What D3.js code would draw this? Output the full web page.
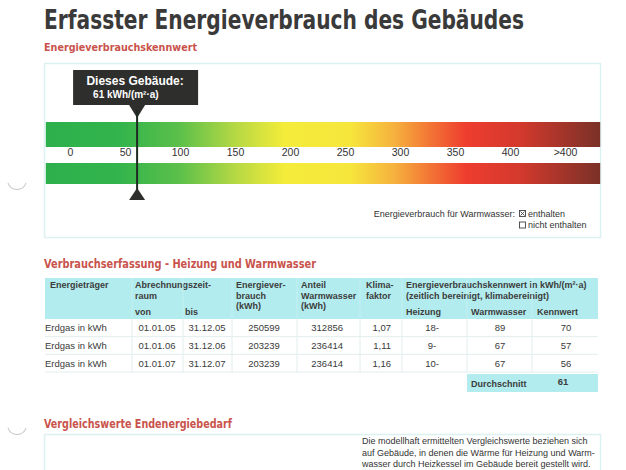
<!DOCTYPE html>
<html lang="de">
<head>
    <meta charset="UTF-8">
    <title>Erfasster Energieverbrauch des Gebäudes</title>
    <script src="https://d3js.org/d3.v7.min.js"></script>
    <style>
        body { margin: 0; background: #fff; }
        text { font-family: "Liberation Sans", Arial, sans-serif; }
        .head { font-family: "DejaVu Sans Condensed", "DejaVu Sans", sans-serif; }
    </style>
</head>
<body>
<div id="chart"></div>
<script>
    // scale values and tick labels
    const tickValues = [0, 50, 100, 150, 200, 250, 300, 350, 400, 450];
    const tickLabels = ["0", "50", "100", "150", "200", "250", "300", "350", "400", ">400"];
    const buildingValue = 61;
    const buildingLabel = "61 kWh/(m²·a)";

    // colour band along the scale (value, colour)
    const stopValues = [-22, 45, 100, 150, 195, 255, 295, 330, 360, 410, 482];
    const stopColors = ["#2db04c", "#33b44c", "#5cc04a", "#b5d844", "#f4ec3a", "#f6e63c", "#f6b13e", "#f27034", "#ee3d2f", "#d2392c", "#7a3127"];

    // table: Verbrauchserfassung
    const carriers = ["Erdgas in kWh", "Erdgas in kWh", "Erdgas in kWh"];
    const fromDates = ["01.01.05", "01.01.06", "01.01.07"];
    const toDates = ["31.12.05", "31.12.06", "31.12.07"];
    const consumption = [250599, 203239, 203239];
    const hotWaterShare = [312856, 236414, 236414];
    const climateFactor = ["1,07", "1,11", "1,16"];
    const heating = ["18-", "9-", "10-"];
    const hotWater = [89, 67, 67];
    const indexValues = [70, 57, 56];
    const average = 61;

    const red = "#c9534c";
    const cyan = "#b3ecef";
    const dark = "#333";

    const svg = d3.select("#chart").append("svg")
        .attr("width", 626)
        .attr("height", 470);

    // punch holes on the left margin
    [188, 433].forEach(cy => {
        svg.append("path")
            .attr("d", d3.arc()({ innerRadius: 9, outerRadius: 10, startAngle: Math.PI * 0.6, endAngle: Math.PI * 1.4 }))
            .attr("transform", `translate(17,${cy - 8})`)
            .attr("fill", "#c8c8c8");
    });

    // title
    svg.append("text").attr("class", "head")
        .attr("x", 44).attr("y", 29)
        .attr("font-size", 26).attr("font-weight", "bold")
        .attr("fill", "#3a3a3a")
        .attr("textLength", 480).attr("lengthAdjust", "spacingAndGlyphs")
        .text("Erfasster Energieverbrauch des Gebäudes");

    svg.append("text").attr("class", "head")
        .attr("x", 44).attr("y", 51)
        .attr("font-size", 11).attr("font-weight", "bold")
        .attr("fill", red)
        .attr("textLength", 153).attr("lengthAdjust", "spacingAndGlyphs")
        .text("Energieverbrauchskennwert");

    // panel
    svg.append("rect")
        .attr("x", 44.5).attr("y", 63.5).attr("width", 556).attr("height", 174)
        .attr("fill", "none").attr("stroke", "#dcf1f2").attr("stroke-width", 1.5);

    const x = d3.scaleLinear().domain([0, 400]).range([70, 510]);

    const grad = svg.append("defs").append("linearGradient")
        .attr("id", "band")
        .attr("gradientUnits", "userSpaceOnUse")
        .attr("x1", x(stopValues[0])).attr("x2", x(stopValues[stopValues.length - 1]))
        .attr("y1", 0).attr("y2", 0);
    grad.selectAll("stop").data(stopValues).join("stop")
        .attr("offset", d => (d - stopValues[0]) / (stopValues[stopValues.length - 1] - stopValues[0]))
        .attr("stop-color", (d, i) => stopColors[i]);

    const barX0 = x(stopValues[0]), barX1 = x(stopValues[stopValues.length - 1]);
    svg.append("rect")
        .attr("x", barX0).attr("y", 122).attr("width", barX1 - barX0).attr("height", 25)
        .attr("fill", "url(#band)");
    svg.append("rect")
        .attr("x", barX0).attr("y", 163).attr("width", barX1 - barX0).attr("height", 21)
        .attr("fill", "url(#band)");

    // tick labels via axis
    const axis = d3.axisBottom(x)
        .tickValues(tickValues)
        .tickFormat((d, i) => tickLabels[i])
        .tickSize(0)
        .tickPadding(0);
    const axisG = svg.append("g")
        .attr("transform", "translate(0,149)")
        .call(axis);
    axisG.select(".domain").remove();
    axisG.selectAll("text")
        .attr("font-family", "Liberation Sans, Arial, sans-serif")
        .attr("font-size", 10.5)
        .attr("fill", dark)
        .attr("dy", "0.71em");

    // building marker
    const mx = x(buildingValue);
    svg.append("rect")
        .attr("x", mx - 64).attr("y", 70).attr("width", 125).attr("height", 35)
        .attr("fill", "#2e2e2c");
    svg.append("text")
        .attr("x", mx - 2).attr("y", 84.5)
        .attr("text-anchor", "middle")
        .attr("font-size", 12).attr("font-weight", "bold").attr("fill", "#fff")
        .text("Dieses Gebäude:");
    svg.append("text")
        .attr("x", mx - 44).attr("y", 98)
        .attr("font-size", 10).attr("font-weight", "bold").attr("fill", "#fff")
        .text(buildingLabel);
    svg.append("path")
        .attr("d", `M${mx - 8},105 L${mx + 8},105 L${mx},118 Z`)
        .attr("fill", "#2e2e2c");
    svg.append("line")
        .attr("x1", mx).attr("x2", mx).attr("y1", 110).attr("y2", 192)
        .attr("stroke", "#1e2a22").attr("stroke-width", 2);
    svg.append("path")
        .attr("d", `M${mx - 8},200 L${mx + 8},200 L${mx},188 Z`)
        .attr("fill", "#2e2e2c");

    // hot water legend
    svg.append("text")
        .attr("x", 515).attr("y", 216.5).attr("text-anchor", "end")
        .attr("font-size", 9).attr("fill", dark)
        .text("Energieverbrauch für Warmwasser:");
    [{ y: 210, label: "enthalten", checked: true }, { y: 221.5, label: "nicht enthalten", checked: false }].forEach(o => {
        svg.append("rect")
            .attr("x", 519.5).attr("y", o.y + 0.5).attr("width", 6).attr("height", 6)
            .attr("fill", "#fff").attr("stroke", "#444").attr("stroke-width", 0.9);
        if (o.checked) {
            svg.append("path")
                .attr("d", `M520.5,${o.y + 1.5} l4,4 M524.5,${o.y + 1.5} l-4,4`)
                .attr("stroke", "#444").attr("stroke-width", 0.9);
        }
        svg.append("text")
            .attr("x", 528).attr("y", o.y + 6.8)
            .attr("font-size", 9).attr("fill", dark)
            .text(o.label);
    });

    // ---- table ----
    svg.append("text").attr("class", "head")
        .attr("x", 44).attr("y", 268)
        .attr("font-size", 12).attr("font-weight", "bold")
        .attr("fill", red)
        .attr("textLength", 272).attr("lengthAdjust", "spacingAndGlyphs")
        .text("Verbrauchserfassung - Heizung und Warmwasser");

    const colEdges = [45, 132, 183, 232, 297, 360, 402, 467, 532, 598];
    const headTop = 278, headBottom = 319;

    svg.append("rect")
        .attr("x", colEdges[0]).attr("y", headTop)
        .attr("width", colEdges[colEdges.length - 1] - colEdges[0]).attr("height", headBottom - headTop)
        .attr("fill", cyan);

    const hdr = [
        { x: 50, lines: ["Energieträger"] },
        { x: 135, lines: ["Abrechnungszeit-", "raum"] },
        { x: 236, lines: ["Energiever-", "brauch", "(kWh)"] },
        { x: 301, lines: ["Anteil", "Warmwasser", "(kWh)"] },
        { x: 366, lines: ["Klima-", "faktor"] },
        { x: 406, lines: ["Energieverbrauchskennwert in kWh/(m²·a)", "(zeitlich bereinigt, klimabereinigt)"] }
    ];
    hdr.forEach(h => {
        const t = svg.append("text")
            .attr("x", h.x).attr("y", 288)
            .attr("font-size", 9).attr("font-weight", "bold").attr("fill", "#3c3c3c");
        h.lines.forEach((l, i) => t.append("tspan").attr("x", h.x).attr("dy", i ? 10.5 : 0).text(l));
    });
    [{ x: 135, s: "von" }, { x: 185, s: "bis" }, { x: 406, s: "Heizung" }, { x: 471, s: "Warmwasser" }, { x: 537, s: "Kennwert" }]
        .forEach(h => svg.append("text")
            .attr("x", h.x).attr("y", 315)
            .attr("font-size", 9).attr("font-weight", "bold").attr("fill", "#3c3c3c")
            .text(h.s));

    const y = d3.scaleBand().domain(d3.range(carriers.length)).range([headBottom, 372]);

    // body grid
    const gridColor = "#e2eeee";
    y.domain().forEach(i => {
        svg.append("line")
            .attr("x1", colEdges[0]).attr("x2", colEdges[colEdges.length - 1])
            .attr("y1", y(i) + y.bandwidth()).attr("y2", y(i) + y.bandwidth())
            .attr("stroke", gridColor);
    });
    colEdges.slice(1, -1).forEach(cx => {
        svg.append("line")
            .attr("x1", cx).attr("x2", cx).attr("y1", headBottom).attr("y2", 372)
            .attr("stroke", gridColor);
        svg.append("line")
            .attr("x1", cx).attr("x2", cx).attr("y1", headTop).attr("y2", headBottom)
            .attr("stroke", "#c9f2f3").attr("stroke-width", 0.8);
    });

    const columns = [
        { vals: carriers, x: 45, anchor: "start" },
        { vals: fromDates, x: 157, anchor: "middle" },
        { vals: toDates, x: 207, anchor: "middle" },
        { vals: consumption, x: 264, anchor: "middle" },
        { vals: hotWaterShare, x: 343, anchor: "end" },
        { vals: climateFactor, x: 391, anchor: "end" },
        { vals: heating, x: 432, anchor: "middle" },
        { vals: hotWater, x: 500, anchor: "middle" },
        { vals: indexValues, x: 566, anchor: "middle" }
    ];
    columns.forEach(c => {
        svg.append("g").selectAll("text").data(c.vals).join("text")
            .attr("x", c.x)
            .attr("y", (d, i) => y(i) + y.bandwidth() / 2 + 3.5)
            .attr("text-anchor", c.anchor)
            .attr("font-size", 9.5).attr("fill", "#3a3a3a")
            .text(d => d);
    });

    // average
    svg.append("rect")
        .attr("x", colEdges[7]).attr("y", 374).attr("width", colEdges[9] - colEdges[7]).attr("height", 18)
        .attr("fill", cyan);
    svg.append("text")
        .attr("x", 471).attr("y", 387)
        .attr("font-size", 9).attr("font-weight", "bold").attr("fill", "#3c3c3c")
        .text("Durchschnitt");
    svg.append("text")
        .attr("x", 563).attr("y", 385).attr("text-anchor", "middle")
        .attr("font-size", 9.5).attr("font-weight", "bold").attr("fill", "#3c3c3c")
        .text(average);

    // ---- Vergleichswerte ----
    svg.append("text").attr("class", "head")
        .attr("x", 44).attr("y", 428)
        .attr("font-size", 12).attr("font-weight", "bold")
        .attr("fill", red)
        .attr("textLength", 188).attr("lengthAdjust", "spacingAndGlyphs")
        .text("Vergleichswerte Endenergiebedarf");
    svg.append("rect")
        .attr("x", 44.5).attr("y", 434.5).attr("width", 556).attr("height", 60)
        .attr("fill", "none").attr("stroke", "#dcf1f2").attr("stroke-width", 1.5);

    const note = ["Die modellhaft ermittelten Vergleichswerte beziehen sich",
        "auf Gebäude, in denen die Wärme für Heizung und Warm-",
        "wasser durch Heizkessel im Gebäude bereit gestellt wird."];
    svg.append("g").selectAll("text").data(note).join("text")
        .attr("x", 362).attr("y", (d, i) => 444 + i * 11.5)
        .attr("font-size", 9).attr("fill", "#333")
        .text(d => d);
</script>
</body>
</html>
